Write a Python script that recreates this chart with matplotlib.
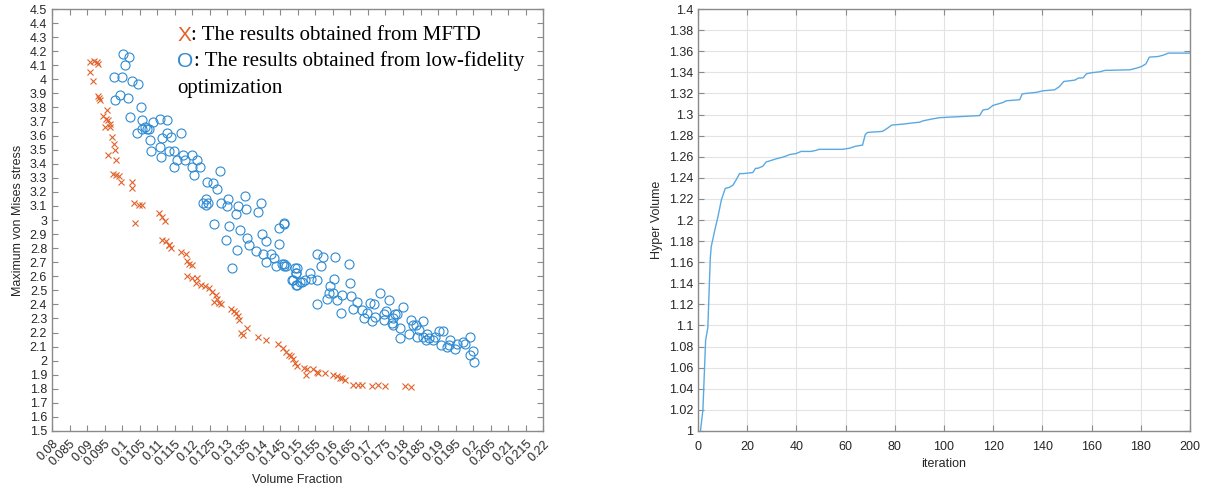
import numpy as np
import matplotlib
matplotlib.use("Agg")
import matplotlib.pyplot as plt
from matplotlib.ticker import FuncFormatter

# MFTD results (volume fraction, max von Mises stress)
mftd_vf = [0.0908, 0.0921, 0.0927, 0.0932, 0.0908, 0.0918, 0.093, 0.0934, 0.0937,
           0.0957, 0.0944, 0.0953, 0.0961, 0.0966, 0.0952, 0.0966, 0.097, 0.0978, 0.098,
           0.096, 0.0981, 0.0975, 0.0982, 0.0992, 0.0996, 0.1027, 0.1029, 0.1033, 0.1047,
           0.1057, 0.1036, 0.1105, 0.1114, 0.1122, 0.1114, 0.1124, 0.1133, 0.114,
           0.1133, 0.1167, 0.1181, 0.1184, 0.1191, 0.12, 0.1186, 0.12, 0.1214, 0.121,
           0.1224, 0.1235, 0.1248, 0.1257, 0.1267, 0.127, 0.1276, 0.1281, 0.1262,
           0.131, 0.132, 0.1324, 0.133, 0.1333, 0.1338, 0.1343, 0.1355, 0.1388, 0.141,
           0.1443, 0.1457, 0.1467, 0.1476, 0.1486, 0.1481, 0.1493, 0.1498, 0.1517,
           0.1526, 0.1524, 0.1545, 0.1555, 0.1559, 0.1578, 0.1602, 0.1612, 0.1621,
           0.1626, 0.1635, 0.1659, 0.1673, 0.1683, 0.1711, 0.173, 0.1749, 0.1806, 0.1822]
mftd_stress = [4.12, 4.13, 4.12, 4.11, 4.05, 3.99, 3.88, 3.87, 3.85,
               3.78, 3.74, 3.72, 3.71, 3.68, 3.66, 3.66, 3.59, 3.54, 3.50,
               3.46, 3.43, 3.33, 3.32, 3.31, 3.27, 3.27, 3.23, 3.12, 3.11,
               3.11, 2.98, 3.05, 3.02, 2.99, 2.86, 2.85, 2.82, 2.80,
               2.82, 2.77, 2.76, 2.71, 2.69, 2.68, 2.60, 2.59, 2.59, 2.55,
               2.54, 2.53, 2.52, 2.49, 2.47, 2.44, 2.41, 2.40, 2.42,
               2.37, 2.35, 2.34, 2.32, 2.29, 2.20, 2.18, 2.23, 2.17, 2.15,
               2.12, 2.09, 2.06, 2.04, 2.01, 2.03, 1.98, 1.96, 1.95,
               1.94, 1.90, 1.94, 1.92, 1.91, 1.91, 1.90, 1.89, 1.88,
               1.88, 1.86, 1.83, 1.83, 1.83, 1.82, 1.83, 1.82, 1.82, 1.81]

# low-fidelity optimization results
lf_vf = [0.1001, 0.1019, 0.1008, 0.0977, 0.0999, 0.1029, 0.1044, 0.0993, 0.1016, 0.0979,
         0.1054, 0.1022, 0.1057, 0.1064, 0.1076, 0.1057, 0.1071, 0.1089, 0.1108, 0.1129,
         0.1041, 0.1079, 0.1114, 0.1127, 0.114, 0.1167, 0.1108, 0.1083, 0.1112,
         0.1133, 0.1148, 0.1174, 0.1179, 0.12, 0.1212, 0.1222, 0.12, 0.1205, 0.1155, 0.1148,
         0.1243, 0.126, 0.1271, 0.1279, 0.1238, 0.1245, 0.1238, 0.1229, 0.1281, 0.1298,
         0.1302, 0.1262, 0.1305, 0.1324, 0.133, 0.1349, 0.1352, 0.1386, 0.1396, 0.1336,
         0.1357, 0.1296, 0.1397, 0.141, 0.1448, 0.1462, 0.146, 0.1448,
         0.1326, 0.1314, 0.1362, 0.1381, 0.14, 0.1424, 0.141, 0.1433, 0.1438, 0.146,
         0.1467, 0.1486, 0.1495, 0.1497, 0.1498, 0.1508,
         0.1455, 0.1462, 0.1493, 0.1496, 0.1483, 0.1496, 0.1512, 0.1521, 0.1534, 0.1538,
         0.1555, 0.1572, 0.1566, 0.1556, 0.1556, 0.1607, 0.1593, 0.1604, 0.1588, 0.16,
         0.1583, 0.1612, 0.1626, 0.1645, 0.1648, 0.1652, 0.167, 0.1659, 0.1623, 0.1683,
         0.1688, 0.1697, 0.1705, 0.1718, 0.1711, 0.1721, 0.1735, 0.1759, 0.1746, 0.1752,
         0.1746, 0.1768, 0.1771, 0.1778, 0.1784, 0.1771, 0.1792, 0.1801, 0.1792, 0.1818,
         0.1822, 0.183, 0.1837, 0.1857, 0.1847, 0.1841, 0.1858, 0.1866, 0.1875, 0.1868,
         0.1892, 0.1887, 0.1904, 0.1915, 0.1908, 0.1925, 0.1934, 0.193, 0.1949, 0.1953,
         0.1971, 0.1977, 0.1991, 0.1999, 0.1991, 0.2003]
lf_stress = [4.18, 4.16, 4.10, 4.02, 4.02, 3.99, 3.97, 3.89, 3.87, 3.85,
             3.80, 3.73, 3.71, 3.66, 3.65, 3.65, 3.65, 3.70, 3.72, 3.71,
             3.62, 3.57, 3.58, 3.62, 3.59, 3.62, 3.52, 3.49, 3.45,
             3.49, 3.49, 3.46, 3.43, 3.46, 3.43, 3.38, 3.38, 3.32, 3.43, 3.38,
             3.27, 3.26, 3.22, 3.35, 3.15, 3.12, 3.11, 3.12, 3.12, 3.10,
             3.15, 2.97, 2.96, 3.04, 3.10, 3.17, 3.08, 3.06, 3.12, 2.93,
             2.87, 2.86, 2.90, 2.85, 2.94, 2.98, 2.97, 2.83,
             2.79, 2.66, 2.82, 2.78, 2.76, 2.76, 2.70, 2.73, 2.67, 2.69,
             2.67, 2.57, 2.62, 2.66, 2.54, 2.56,
             2.69, 2.67, 2.66, 2.62, 2.57, 2.54, 2.56, 2.57, 2.62, 2.58,
             2.76, 2.74, 2.67, 2.57, 2.40, 2.74, 2.53, 2.58, 2.48, 2.48,
             2.44, 2.43, 2.47, 2.69, 2.55, 2.46, 2.42, 2.37, 2.34, 2.36,
             2.30, 2.34, 2.41, 2.40, 2.28, 2.31, 2.48, 2.43, 2.33, 2.35,
             2.29, 2.27, 2.25, 2.33, 2.33, 2.30, 2.23, 2.38, 2.16, 2.19,
             2.29, 2.25, 2.25, 2.28, 2.22, 2.17, 2.17, 2.15, 2.16, 2.19,
             2.17, 2.15, 2.21, 2.21, 2.11, 2.10, 2.15, 2.11, 2.08, 2.12,
             2.13, 2.12, 2.17, 2.07, 2.04, 1.99]

# hyper volume history
hv_iter = [1, 2, 3.1, 4, 5, 5.4, 6.8, 8.1, 9.5, 11.1, 12.8, 14.2, 15.5, 16.9, 18.5, 22.3,
           23.4, 24.3, 26.4, 27.7, 29.1, 31.8, 35.1, 37.2, 39.9, 41.9, 45.9, 48, 49.3,
           58.8, 61.5, 64.2, 66.9, 68, 68.9, 75, 77, 78.8, 83.8, 87.2, 90.1, 91.5, 94.8,
           98.2, 106.4, 114.5, 115.9, 117.9, 119.9, 124, 125.3, 130.8, 131.8, 137.5,
           140.3, 145, 147, 148.7, 153.2, 154.6, 156.6, 157.9, 160, 163.4, 165.4, 175.6,
           178.3, 180.4, 182.1, 183.5, 187.1, 189.2, 191.2, 200]
hv_value = [1.0, 1.02, 1.086, 1.098, 1.164, 1.175, 1.19, 1.203, 1.219, 1.23, 1.231, 1.233,
            1.238, 1.244, 1.244, 1.245, 1.249, 1.249, 1.251, 1.255, 1.256, 1.258, 1.26,
            1.262, 1.263, 1.265, 1.265, 1.266, 1.267, 1.267, 1.268, 1.27, 1.271, 1.281,
            1.283, 1.284, 1.287, 1.29, 1.291, 1.292, 1.2927, 1.294, 1.2956, 1.297, 1.298,
            1.299, 1.3044, 1.305, 1.3086, 1.3114, 1.313, 1.314, 1.3196, 1.321, 1.3225,
            1.3234, 1.3266, 1.3313, 1.3326, 1.3345, 1.3348, 1.3386, 1.3396, 1.3405,
            1.3418, 1.3424, 1.344, 1.3456, 1.348, 1.3544, 1.355, 1.3563, 1.3582, 1.3582]

orange = "#E2622A"
blue = "#2E8AD3"
spine_col = "#8A8A8A"
txt_col = "#262626"
sans = "Liberation Sans"
serif = "Liberation Serif"

fig = plt.figure(figsize=(12.12, 4.93), dpi=100)

def style_axes(ax):
    for s in ax.spines.values():
        s.set_color(spine_col)
        s.set_linewidth(1.0)
    ax.tick_params(direction="in", top=True, right=True, length=4, width=0.8,
                   color=spine_col, labelsize=9, labelcolor=txt_col)
    for lab in ax.get_xticklabels() + ax.get_yticklabels():
        lab.set_fontfamily(sans)

fmt = FuncFormatter(lambda v, p: f"{round(v, 3):g}")

# Left: scatter of the two result sets
ax1 = fig.add_axes([0.0429, 0.1258, 0.4054, 0.8559])
ax1.plot(mftd_vf, mftd_stress, linestyle="none", marker="x", ms=5, mew=0.8, color=orange)
ax1.plot(lf_vf, lf_stress, linestyle="none", marker="o", ms=6.5, mew=0.8,
         mfc="none", mec=blue)
ax1.set_xlim(0.08, 0.22)
ax1.set_ylim(1.5, 4.5)
ax1.set_xticks(np.arange(0.08, 0.2201, 0.005))
ax1.set_yticks(np.arange(1.5, 4.501, 0.1))
ax1.xaxis.set_major_formatter(fmt)
ax1.yaxis.set_major_formatter(fmt)
style_axes(ax1)
ax1.tick_params(axis="x", pad=5)
plt.setp(ax1.get_xticklabels(), rotation=45, ha="right", rotation_mode="anchor")
ax1.set_xlabel("Volume Fraction", fontsize=9, family=sans, color=txt_col, labelpad=4)
ax1.set_ylabel("Maximum von Mises stress", fontsize=9, family=sans, color=txt_col, labelpad=4)

# annotation text (coloured marker letter + serif description)
t1 = ax1.text(0.255, 0.915, "X", transform=ax1.transAxes, color=orange,
              fontsize=15, family=sans, va="bottom")
ax1.annotate(": The results obtained from MFTD", xy=(1, 0), xycoords=t1,
             fontsize=15, family=serif, color="black", va="bottom")
t2 = ax1.text(0.255, 0.852, "O", transform=ax1.transAxes, color=blue,
              fontsize=15, family=sans, va="bottom")
ax1.annotate(": The results obtained from low-fidelity", xy=(1, 0), xycoords=t2,
             fontsize=15, family=serif, color="black", va="bottom")
ax1.text(0.255, 0.79, "optimization", transform=ax1.transAxes, color="black",
         fontsize=15, family=serif, va="bottom")

# Right: hyper volume convergence
ax2 = fig.add_axes([0.5759, 0.1258, 0.4059, 0.8559])
ax2.plot(hv_iter, hv_value, color="#5AAAE2", linewidth=1.0)
ax2.set_xlim(0, 200)
ax2.set_ylim(1, 1.4)
ax2.set_xticks(np.arange(0, 201, 20))
ax2.set_yticks(np.arange(1, 1.401, 0.02))
ax2.yaxis.set_major_formatter(fmt)
ax2.grid(True, color="#E3E3E3", linewidth=0.8)
ax2.set_axisbelow(True)
style_axes(ax2)
ax2.tick_params(axis="x", pad=7)
ax2.set_xlabel("iteration", fontsize=9, family=sans, color=txt_col, labelpad=4)
ax2.set_ylabel("Hyper Volume", fontsize=9, family=sans, color=txt_col, labelpad=4)

fig.savefig("out.png", dpi=100)
